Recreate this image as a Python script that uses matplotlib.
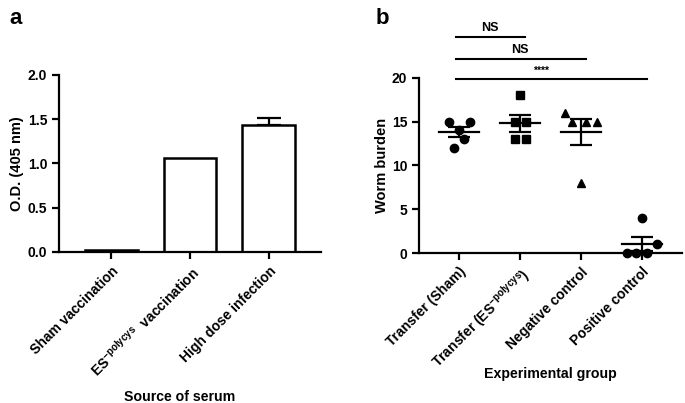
import matplotlib
matplotlib.use('Agg')
import matplotlib.pyplot as plt
import numpy as np

plt.rcParams['font.family'] = ['Liberation Sans', 'DejaVu Sans']
plt.rcParams['font.weight'] = 'bold'
plt.rcParams['mathtext.fontset'] = 'custom'
plt.rcParams['mathtext.rm'] = 'Liberation Sans'
plt.rcParams['mathtext.it'] = 'Liberation Sans'
plt.rcParams['mathtext.bf'] = 'Liberation Sans:bold'

# panel a data
serum_groups = ['Sham vaccination', r'ES$^{\mathrm{-polycys}}$  vaccination', 'High dose infection']
od_values = [0.025, 1.06, 1.43]
od_err = [0.0, 0.0, 0.08]

# panel b data
exp_groups = ['Transfer (Sham)', r'Transfer (ES$^{\mathrm{-polycys}}$)', 'Negative control', 'Positive control']
worm_sham = [15, 15, 14, 13, 12]
worm_es = [18, 15, 15, 13, 13]
worm_neg = [16, 15, 15, 15, 8]
worm_pos = [4, 1, 0, 0, 0]
worms = [worm_sham, worm_es, worm_neg, worm_pos]
markers = ['o', 's', '^', 'o']
# horizontal spread of points (scatter dot plot layout)
spread = [[-0.17, 0.17, 0.0, 0.08, -0.09],
          [0.0, -0.09, 0.09, -0.09, 0.09],
          [-0.26, -0.14, 0.09, 0.26, 0.0],
          [0.0, 0.25, -0.25, -0.09, 0.09]]

sig_pairs = [(0, 1, 'NS'), (0, 2, 'NS'), (0, 3, '****')]
sig_levels = [24.7, 22.2, 19.9]

fig = plt.figure(figsize=(6.85, 4.03), dpi=100)

def style(ax):
    for s in ['top', 'right']:
        ax.spines[s].set_visible(False)
    for s in ['left', 'bottom']:
        ax.spines[s].set_linewidth(1.6)
    ax.tick_params(width=1.6, length=5, labelsize=10)
    for t in ax.get_yticklabels():
        t.set_fontweight('bold')

# ---- panel a ----
ax1 = fig.add_axes([0.0861, 0.3747, 0.3825, 0.4392])
x = np.arange(len(od_values))
ax1.bar(x, od_values, width=0.67, color='white', edgecolor='black', linewidth=1.8, zorder=2)
ax1.errorbar(x[2], od_values[2], yerr=[[0], [od_err[2]]], fmt='none', ecolor='black',
             elinewidth=1.6, capsize=8.5, capthick=1.6, zorder=1)
ax1.set_xlim(-0.66, 2.66)
ax1.set_ylim(0, 2.0)
ax1.set_yticks([0, 0.5, 1.0, 1.5, 2.0])
ax1.set_yticklabels(['0.0', '0.5', '1.0', '1.5', '2.0'])
ax1.set_xticks(x)
ax1.set_xticklabels(serum_groups, rotation=45, ha='right', rotation_mode='anchor',
                    fontweight='bold', fontsize=9.5)
ax1.set_ylabel('O.D. (405 nm)', fontsize=10.5, fontweight='bold', labelpad=3)
ax1.set_xlabel('Source of serum', fontsize=10.2, fontweight='bold')
ax1.xaxis.set_label_coords(0.462, -0.78)
style(ax1)

# ---- panel b ----
ax2 = fig.add_axes([0.6117, 0.3722, 0.3839, 0.4343])
for i, vals in enumerate(worms):
    vals = np.array(vals, dtype=float)
    ax2.plot(i + np.array(spread[i]), vals, linestyle='none', marker=markers[i],
             color='black', markersize=6 if markers[i] != 's' else 5.5, clip_on=False, zorder=3)
    m = vals.mean()
    sem = vals.std(ddof=1) / np.sqrt(len(vals))
    ax2.plot([i - 0.33, i + 0.33], [m, m], color='black', lw=1.6, zorder=4)
    ax2.errorbar(i, m, yerr=sem, fmt='none', ecolor='black', elinewidth=1.6,
                 capsize=8, capthick=1.6, zorder=4)
ax2.set_xlim(-0.66, 3.66)
ax2.set_ylim(0, 20)
ax2.set_yticks([0, 5, 10, 15, 20])
ax2.set_xticks(range(len(exp_groups)))
ax2.set_xticklabels(exp_groups, rotation=45, ha='right', rotation_mode='anchor',
                    fontweight='bold', fontsize=9.5)
ax2.set_ylabel('Worm burden', fontsize=10.5, fontweight='bold', labelpad=2)
ax2.set_xlabel('Experimental group', fontsize=10.2, fontweight='bold')
ax2.xaxis.set_label_coords(0.498, -0.65)
style(ax2)

for (a, b, lab), lvl in zip(sig_pairs, sig_levels):
    ax2.plot([a - 0.05, b + 0.08], [lvl, lvl], color='black', lw=1.5, clip_on=False)
    ax2.text((a + b) / 2 if lab == 'NS' else 1.35, lvl + 0.3, lab, ha='center', va='bottom',
             fontsize=9 if lab == 'NS' else 7.5, fontweight='bold')

fig.text(0.013, 0.955, 'a', fontsize=16, fontweight='bold', va='center')
fig.text(0.548, 0.955, 'b', fontsize=16, fontweight='bold', va='center')

fig.savefig('out.png', dpi=100)
